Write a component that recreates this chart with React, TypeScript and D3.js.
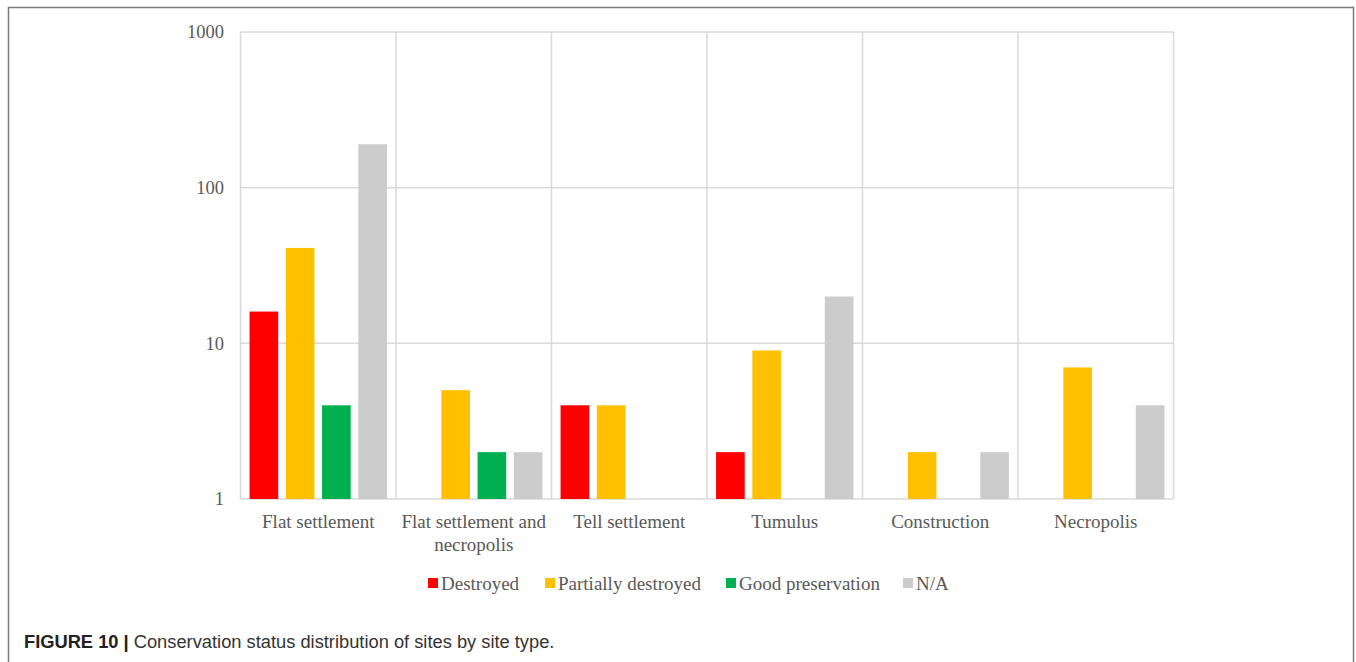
import React from "react";
import * as d3 from "d3";

const categories = [
  ["Flat settlement"],
  ["Flat settlement and", "necropolis"],
  ["Tell settlement"],
  ["Tumulus"],
  ["Construction"],
  ["Necropolis"],
];
const seriesNames = ["Destroyed", "Partially destroyed", "Good preservation", "N/A"];
const seriesColors = ["#ff0000", "#ffc000", "#00b050", "#cccccc"];
const destroyed = [16, 0, 4, 2, 0, 0];
const partiallyDestroyed = [41, 5, 4, 9, 2, 7];
const goodPreservation = [4, 2, 0, 0, 0, 0];
const notAvailable = [190, 2, 0, 20, 2, 4];
const yTicks = [1, 10, 100, 1000];
const captionBold = "FIGURE 10 |";
const captionText = " Conservation status distribution of sites by site type.";

const seriesValues = [destroyed, partiallyDestroyed, goodPreservation, notAvailable];

export default function App() {
  const W = 1356;
  const H = 662;
  const left = 240.5;
  const right = 1173.5;
  const top = 32;
  const bottom = 499;
  const serif = "'Liberation Serif', 'Times New Roman', serif";
  const sans = "'Liberation Sans', Arial, sans-serif";

  const idx = categories.map((_, i) => String(i));
  const x0 = d3.scaleBand().domain(idx).range([left, right]).paddingInner(0).paddingOuter(0);
  const x1 = d3
    .scaleBand()
    .domain(seriesNames)
    .range([0, x0.bandwidth()])
    .paddingInner(0.21)
    .paddingOuter(0.25);
  const y = d3.scaleLog().domain([1, 1000]).range([bottom, top]);

  const legendX = [428, 545, 726, 903];

  return (
    <svg width={W} height={H} style={{ position: "absolute", left: 0, top: 0 }}>
      <rect x={0} y={0} width={W} height={H} fill="#fff" />
      <rect x={8.5} y={7.5} width={1345} height={670} fill="none" stroke="#7a7a7a" strokeWidth={1.5} />
      {yTicks.map((t) => (
        <line key={t} x1={left} x2={right} y1={y(t)} y2={y(t)} stroke="#d9d9d9" strokeWidth={1.5} />
      ))}
      {d3.range(categories.length + 1).map((i) => {
        const xv = left + i * x0.step();
        return <line key={i} x1={xv} x2={xv} y1={top} y2={bottom} stroke="#d9d9d9" strokeWidth={1.5} />;
      })}
      {idx.map((c, ci) =>
        seriesNames.map((s, si) => {
          const v = seriesValues[si][ci];
          if (!v || v <= 1) return null;
          const bx = (x0(c) as number) + (x1(s) as number);
          return (
            <rect
              key={c + s}
              x={bx}
              y={y(v)}
              width={x1.bandwidth()}
              height={bottom - y(v)}
              fill={seriesColors[si]}
            />
          );
        })
      )}
      {yTicks.map((t) => (
        <text
          key={t}
          x={224}
          y={y(t)}
          dy="0.35em"
          textAnchor="end"
          fontFamily={serif}
          fontSize={18.5}
          fill="#595959"
        >
          {t}
        </text>
      ))}
      {categories.map((lines, i) => {
        const cx = (x0(String(i)) as number) + x0.bandwidth() / 2;
        return (
          <text key={i} x={cx} y={528} textAnchor="middle" fontFamily={serif} fontSize={19} fill="#595959">
            {lines.map((l, li) => (
              <tspan key={li} x={cx} dy={li === 0 ? 0 : 23}>
                {l}
              </tspan>
            ))}
          </text>
        );
      })}
      {seriesNames.map((s, i) => (
        <g key={s}>
          <rect x={legendX[i]} y={578} width={10} height={10} fill={seriesColors[i]} />
          <text x={legendX[i] + 13} y={590} fontFamily={serif} fontSize={19} fill="#595959">
            {s}
          </text>
        </g>
      ))}
      <text x={24} y={648} fontFamily={sans} fontSize={18.3} fill="#333">
        <tspan fontWeight="bold" fill="#222">{captionBold}</tspan>
        <tspan>{captionText}</tspan>
      </text>
    </svg>
  );
}
